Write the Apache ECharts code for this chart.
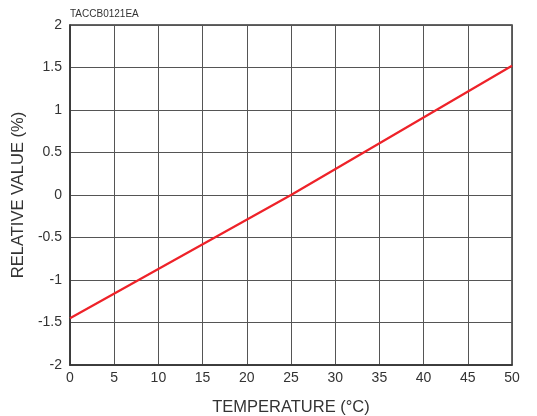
<!DOCTYPE html>
<html><head><meta charset="utf-8">
<script src="https://cdn.jsdelivr.net/npm/echarts@6/dist/echarts.min.js"></script>
<style>html,body{margin:0;padding:0;background:#fff}#c{width:537px;height:416px}</style>
</head><body><div id="c"></div>
<script>
const temperature = [0, 25, 50];
const relativeValue = [-1.45, 0, 1.52];
const xTicks = [0,5,10,15,20,25,30,35,40,45,50];
const yTicks = [-2,-1.5,-1,-0.5,0,0.5,1,1.5,2];
const chart = echarts.init(document.getElementById('c'), null, {renderer:'canvas'});
const font = 'Liberation Sans, Arial, sans-serif';
chart.setOption({
  animation:false,
  title:{text:'TACCB0121EA', left:70, top:9, padding:0, textStyle:{fontSize:10, fontWeight:'normal', color:'#333', fontFamily:font}},
  grid:{left:70, right:25, top:25, bottom:51, show:true, borderColor:'#333', borderWidth:1.5, outerBoundsMode:'none', containLabel:false},
  xAxis:{type:'value', min:0, max:50, interval:5,
    name:'TEMPERATURE (°C)', nameLocation:'middle', nameGap:34,
    nameTextStyle:{fontSize:16.5, color:'#333', fontFamily:font},
    axisLine:{show:true, onZero:false, lineStyle:{color:'#333', width:1.5}}, axisTick:{show:false},
    axisLabel:{fontSize:14, color:'#333', fontFamily:font, margin:6, formatter:v=>String(v)},
    splitLine:{show:true, lineStyle:{color:'#555', width:1}}},
  yAxis:{type:'value', min:-2, max:2, interval:0.5,
    name:'RELATIVE VALUE (%)', nameLocation:'middle', nameGap:41,
    nameTextStyle:{fontSize:16.5, color:'#333', fontFamily:font},
    axisLine:{show:true, onZero:false, lineStyle:{color:'#333', width:1.5}}, axisTick:{show:false},
    axisLabel:{fontSize:14, color:'#333', fontFamily:font, margin:8, formatter:v=>String(v)},
    splitLine:{show:true, lineStyle:{color:'#555', width:1}}},
  series:[{type:'line', data:temperature.map((t,i)=>[t,relativeValue[i]]), showSymbol:false,
    lineStyle:{color:'#ee2229', width:2.2}}]
});
</script></body></html>
